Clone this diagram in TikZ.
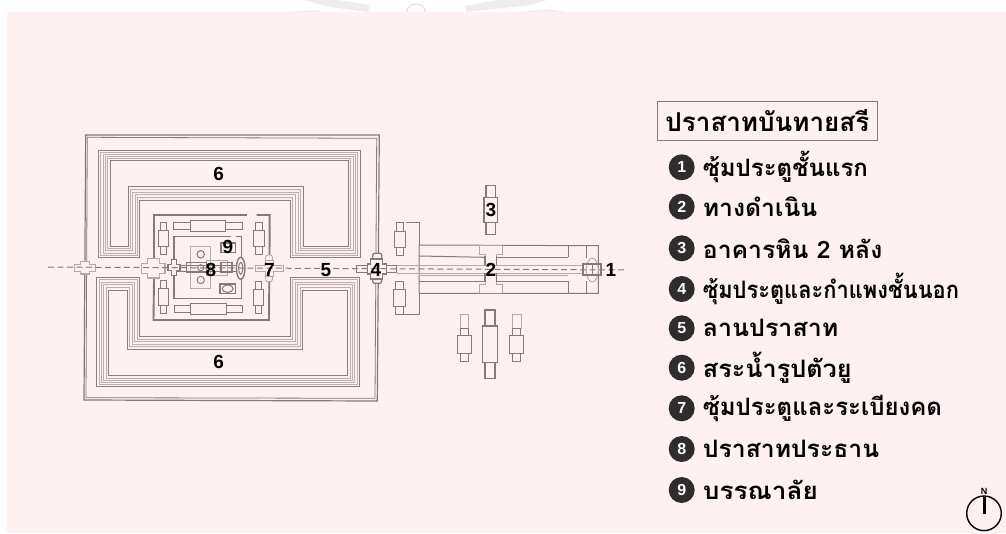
\documentclass[tikz,border=0pt]{standalone}
\usepackage{fontspec}
\setmainfont{Liberation Sans}
\newfontfamily\thaifont[Script=Thai]{Loma}
\definecolor{bgpink}{HTML}{FDF1F1}
\definecolor{wallc}{HTML}{857A7A}
\definecolor{lightc}{HTML}{B5A8A8}
\definecolor{darkc}{HTML}{2E2C2C}
\tikzset{
 wallline/.style={draw=wallc,line width=1pt},
 thickwall/.style={draw=wallc,line width=1.9pt},
 lightline/.style={draw=lightc,line width=0.9pt},
 axisline/.style={draw=wallc,line width=1pt,dash pattern=on 6pt off 3.5pt},
 numlabel/.style={font=\fontsize{19}{19}\selectfont\bfseries,text=black,inner sep=0pt},
 bullet/.style={circle,fill=darkc,minimum size=26pt,inner sep=0pt,text=white,font=\fontsize{16}{16}\selectfont\bfseries},
 itemtext/.style={anchor=west,inner sep=0pt,font=\thaifont\fontsize{24}{24}\selectfont\bfseries,text=black},
}
% centre x, centre y, half width, half height, end half width, end length
\newcommand{\planvbld}[7][wallline]{%
 \draw[#1,fill=bgpink] (#2-#6,#3-#5-#7) rectangle (#2+#6,#3-#5);
 \draw[#1,fill=bgpink] (#2-#6,#3+#5) rectangle (#2+#6,#3+#5+#7);
 \draw[#1,fill=bgpink] (#2-#4,#3-#5) rectangle (#2+#4,#3+#5);
}
\newcommand{\planhbld}[7][wallline]{%
 \draw[#1,fill=bgpink] (#2-#4-#7,#3-#6) rectangle (#2-#4,#3+#6);
 \draw[#1,fill=bgpink] (#2+#4,#3-#6) rectangle (#2+#4+#7,#3+#6);
 \draw[#1,fill=bgpink] (#2-#4,#3-#5) rectangle (#2+#4,#3+#5);
}
% centre x,y, horizontal half w,h, vertical half w,h
\newcommand{\plancross}[7][wallline]{%
 \draw[#1,fill=bgpink] (#2-#4,#3-#5) -- (#2-#6,#3-#5) -- (#2-#6,#3-#7) -- (#2+#6,#3-#7) -- (#2+#6,#3-#5) -- (#2+#4,#3-#5)
   -- (#2+#4,#3+#5) -- (#2+#6,#3+#5) -- (#2+#6,#3+#7) -- (#2-#6,#3+#7) -- (#2-#6,#3+#5) -- (#2-#4,#3+#5) -- cycle;
}
\begin{document}
\begin{tikzpicture}[x=1pt,y=-1pt]
\useasboundingbox (0,0) rectangle (1006,533);
\fill[white] (0,0) rectangle (1006,533);
% faint watermark remains above the panel
\fill[black!7] (303,0) -- (338,0) -- (370,5) -- (368,12) -- (330,7) -- cycle;
\fill[black!7] (497,0) -- (547,0) -- (530,5) -- (466,12) -- (465,6) -- cycle;
\fill[black!6] (285,12) -- (318,10) -- (322,12) -- cycle;
\fill[black!6] (520,12) -- (548,9) -- (565,12) -- cycle;
\draw[black!14,line width=1pt] (406,13) .. controls (408,1) and (424,1) .. (426,13);
\fill[bgpink,rounded corners=1.5pt] (7,12) rectangle (1010,532.7);

% outer wall
\draw[wallline,line width=1.2pt] (85.7,135) -- (379.3,135) -- (377.3,401) -- (84,400) -- cycle;
\draw[wallline,line width=0.8pt] (87.3,137.3) -- (376.7,138.3) -- (375,398.3) -- (86,397.7) -- cycle;

% moats: lines between the outer and inner outline of each band
\foreach \t in {0,0.2,0.4,0.6,0.8,1}{
 \pgfmathsetmacro{\gr}{ifthenelse(\t==0||\t==1,95,55)}
 \draw[draw=wallc!\gr!bgpink,line width=0.8pt]
  ({98.3+\t*11.7},{257.7-\t*11.7}) -- ({98.3+\t*11.7},{150+\t*10.7}) -- ({360-\t*11.7},{150+\t*10.7}) -- ({360-\t*11.7},{257.7-\t*11.7})
  -- ({290+\t*13.3},{257.7-\t*11.7}) -- ({290+\t*13.3},{200-\t*13.3}) -- ({139.3-\t*11},{200-\t*13.3}) -- ({139.3-\t*11},{257.7-\t*11.7}) -- cycle;
 \draw[draw=wallc!\gr!bgpink,line width=0.8pt]
  ({96.7+\t*11.6},{277+\t*13}) -- ({96.7+\t*11.6},{386.7-\t*11}) -- ({359.3-\t*11.6},{386.7-\t*11}) -- ({359.3-\t*11.6},{277+\t*13})
  -- ({290+\t*12.7},{277+\t*13}) -- ({290+\t*12.7},{336.7+\t*12.6}) -- ({139.3-\t*12},{336.7+\t*12.6}) -- ({139.3-\t*12},{277+\t*13}) -- cycle;
}

% inner enclosure
\draw[thickwall] (246.7,215) -- (154,215) -- (154,258);
\draw[thickwall] (154,279) -- (153.5,320) -- (269,320) -- (269.3,280);
\draw[thickwall] (269.5,256) -- (269.7,215) -- (256.7,215);
% gallery
\draw[wallline,line width=1.2pt] (231,236.7) -- (174,236.7) -- (174,298.3) -- (241.7,298.3) -- (241.7,278);
\draw[wallline,line width=1.2pt] (241.7,258) -- (241.7,236.7) -- (236,236.7);
% enclosure buildings
\planvbld{163.3}{238.3}{5.3}{8.3}{3.3}{8}
\planvbld{163.3}{296.7}{5.3}{8.3}{3.3}{8}
\planvbld{258.7}{238.3}{5.3}{8.3}{3.3}{8}
\planvbld{258.3}{297.3}{5.3}{8.3}{3.3}{8}
\planhbld{208}{225.5}{17.7}{5.5}{3.5}{16.4}
\planhbld{208.3}{309.3}{17.7}{5.5}{3.5}{16.4}
% central group
\draw[lightline] (190.7,246.7) rectangle (210,288.3);
\draw[wallline] (200.7,254.3) circle (3.7);
\draw[wallline] (200.7,280) circle (3.7);
\draw[lightline] (206.7,260) rectangle (227,275);
\draw[wallline,line width=1.4pt] (186.7,262.7) rectangle (206.7,272.7);
\draw[wallline] (200.7,267.7) circle (3);
\draw[wallline,line width=1.4pt] (221,262.7) rectangle (232,272.7);
\draw[wallline] (176,265) -- (240,265);
\draw[wallline] (176,271) -- (240,271);
\draw[wallline,line width=1.8pt] (221,243) rectangle (235.5,252.5);
\draw[wallline,line width=1.4pt] (220,284) rectangle (235.5,293.5);
\draw[wallline,fill=bgpink] (227.7,288.7) ellipse (5.5 and 3.7);
\draw[wallline,line width=1.4pt,fill=bgpink] (240.7,268.3) ellipse (4.3 and 11);
\draw[wallline,fill=bgpink] (240.7,268.3) ellipse (2 and 6);
\plancross[lightline,line width=1.2pt]{153.3}{268.3}{11.7}{5}{6}{9.7}
\plancross[wallline,line width=1.4pt]{174}{267.7}{6}{3}{2.5}{8}

% western gate
\plancross[lightline,line width=1.1pt]{85}{267.7}{10.5}{3.5}{4.8}{6.3}

% gate 7
\draw[lightline,fill=bgpink,rounded corners=2pt] (265.7,255) rectangle (272.3,281.7);
\plancross[lightline]{269}{268.3}{14}{2.7}{4}{8}

% gate 4
\draw[wallline,fill=bgpink] (356.7,265) rectangle (368,272);
\draw[wallline,fill=bgpink] (386.7,265) rectangle (396.7,272);
\draw[wallline,line width=1.3pt,fill=bgpink,rounded corners=2pt] (372.7,253.3) rectangle (381.7,283.3);
\plancross[wallline,line width=1.2pt]{376.7}{269}{9.5}{5}{6}{10}

% causeway
\draw[wallline] (419,245) -- (598.3,245.7) -- (598.3,293.3) -- (419,293.3) -- cycle;
\draw[wallline] (419,256) -- (485,257.3);
\draw[wallline] (496.7,257.3) -- (568.3,257.3);
\draw[wallline] (419,281) -- (485,281);
\draw[wallline] (496.7,281) -- (568.3,281);
\draw[wallline] (568.3,246) -- (568.3,257.3);
\draw[wallline] (568.3,281) -- (568.3,293);
\draw[wallline] (586.7,246) -- (586.7,258);
\draw[wallline] (586.7,281) -- (586.7,293);
\draw[lightline] (396.7,265) -- (583,265);
\draw[lightline] (396.7,273) -- (583,273);
\draw[lightline] (419,275) -- (485,275);
\draw[lightline] (496.7,275) -- (568,275);
% centre cross of the causeway
\draw[lightline,fill=bgpink] (479,245.7) -- (479,254) -- (485,254) -- (485,265) -- (496.7,265) -- (496.7,254) -- (502.3,254) -- (502.3,245.7);
\draw[lightline,fill=bgpink] (479,293) -- (479,284) -- (485,284) -- (485,273) -- (496.7,273) -- (496.7,284) -- (502.3,284) -- (502.3,293);
\draw[wallline,line width=1.2pt] (485,256) -- (485,265);
\draw[wallline,line width=1.2pt] (496.7,256) -- (496.7,265);
\draw[wallline,line width=1.2pt] (485,273) -- (485,282);
\draw[wallline,line width=1.2pt] (496.7,273) -- (496.7,282);
% annex walls
\draw[wallline] (406,222.7) -- (419,222.7) -- (419,245);
\draw[wallline] (419,293.3) -- (419,314.3) -- (403,314.3);
\planvbld{400}{239.3}{5.8}{8.3}{3.7}{8.2}
\planvbld{399.3}{297.7}{5.8}{8.3}{3.7}{8.2}
% gate 1
\draw[lightline,fill=bgpink] (592.3,270) ellipse (6 and 12);
\draw[wallline,line width=1.7pt] (582.7,264.3) rectangle (601,275.3);
\draw[wallline] (592.3,264.3) -- (592.3,275.3);

% stone buildings
\planvbld[wallline,line width=1.2pt]{490.7}{210}{6.7}{12.3}{4.8}{12.5}
\draw[lightline] (460,314) rectangle (468.7,328.3);
\draw[lightline] (512.3,314) rectangle (521,328.3);
\planvbld{464.3}{344.5}{7}{8.8}{4.3}{7.7}
\planvbld{516.3}{344.5}{7}{8.8}{4.3}{7.7}
\planvbld[wallline,line width=1.4pt]{490}{344}{7.3}{18.2}{5}{16}

% axis
\coordinate (axw) at (48,267);
\coordinate (axe) at (627,270);
\draw[axisline] (axw) -- (axe);

% plan numbers
\node[numlabel] (n6a) at (218.7,173.5) {6};
\node[numlabel] (n6b) at (218.7,362) {6};
\node[numlabel] (n9) at (228,247) {9};
\node[numlabel] (n8) at (211,270) {8};
\node[numlabel] (n7) at (269.5,270) {7};
\node[numlabel] (n5) at (326,270) {5};
\node[numlabel] (n4) at (376,270) {4};
\node[numlabel] (n2) at (491,270) {2};
\node[numlabel] (n3) at (491,210) {3};
\node[numlabel] (n1) at (611,270) {1};

% legend
\node[draw=wallc,line width=0.9pt,minimum width=220pt,minimum height=38.3pt,inner sep=0pt,font=\thaifont\fontsize{26}{26}\selectfont\bfseries] (title) at (767.3,120.8) {ปราสาทบันทายสรี};
\node[bullet] (b1) at (681.7,167.3) {1};
\node[bullet] (b2) at (681.7,206.7) {2};
\node[bullet] (b3) at (681.7,248.3) {3};
\node[bullet] (b4) at (681.7,289) {4};
\node[bullet] (b5) at (681.7,328.3) {5};
\node[bullet] (b6) at (681.7,367.7) {6};
\node[bullet] (b7) at (681.7,408.3) {7};
\node[bullet] (b8) at (681.7,449) {8};
\node[bullet] (b9) at (681.7,490) {9};
\node[itemtext] (t1) at (702.7,167.3) {ซุ้มประตูชั้นแรก};
\node[itemtext,xscale=1.03] (t2) at (702.7,206.7) {ทางดำเนิน};
\node[itemtext,xscale=1.03] (t3) at (702.7,248.3) {อาคารหิน 2 หลัง};
\node[itemtext,xscale=0.91] (t4) at (702.7,289) {ซุ้มประตูและกำแพงชั้นนอก};
\node[itemtext,xscale=1.04] (t5) at (702.7,328.3) {ลานปราสาท};
\node[itemtext,xscale=1.05] (t6) at (702.7,367.7) {สระน้ำรูปตัวยู};
\node[itemtext] (t7) at (702.7,408.3) {ซุ้มประตูและระเบียงคด};
\node[itemtext,xscale=1.03] (t8) at (702.7,449) {ปราสาทประธาน};
\node[itemtext,xscale=1.09] (t9) at (702.7,490) {บรรณาลัย};

% compass
\draw[black,line width=1.4pt] (984,513.3) circle (17.3);
\fill[black] (982.5,497.3) rectangle (985.5,514.3);
\node[inner sep=0pt,font=\fontsize{9}{9}\selectfont\bfseries] (north) at (984,491) {N};
\end{tikzpicture}
\end{document}
